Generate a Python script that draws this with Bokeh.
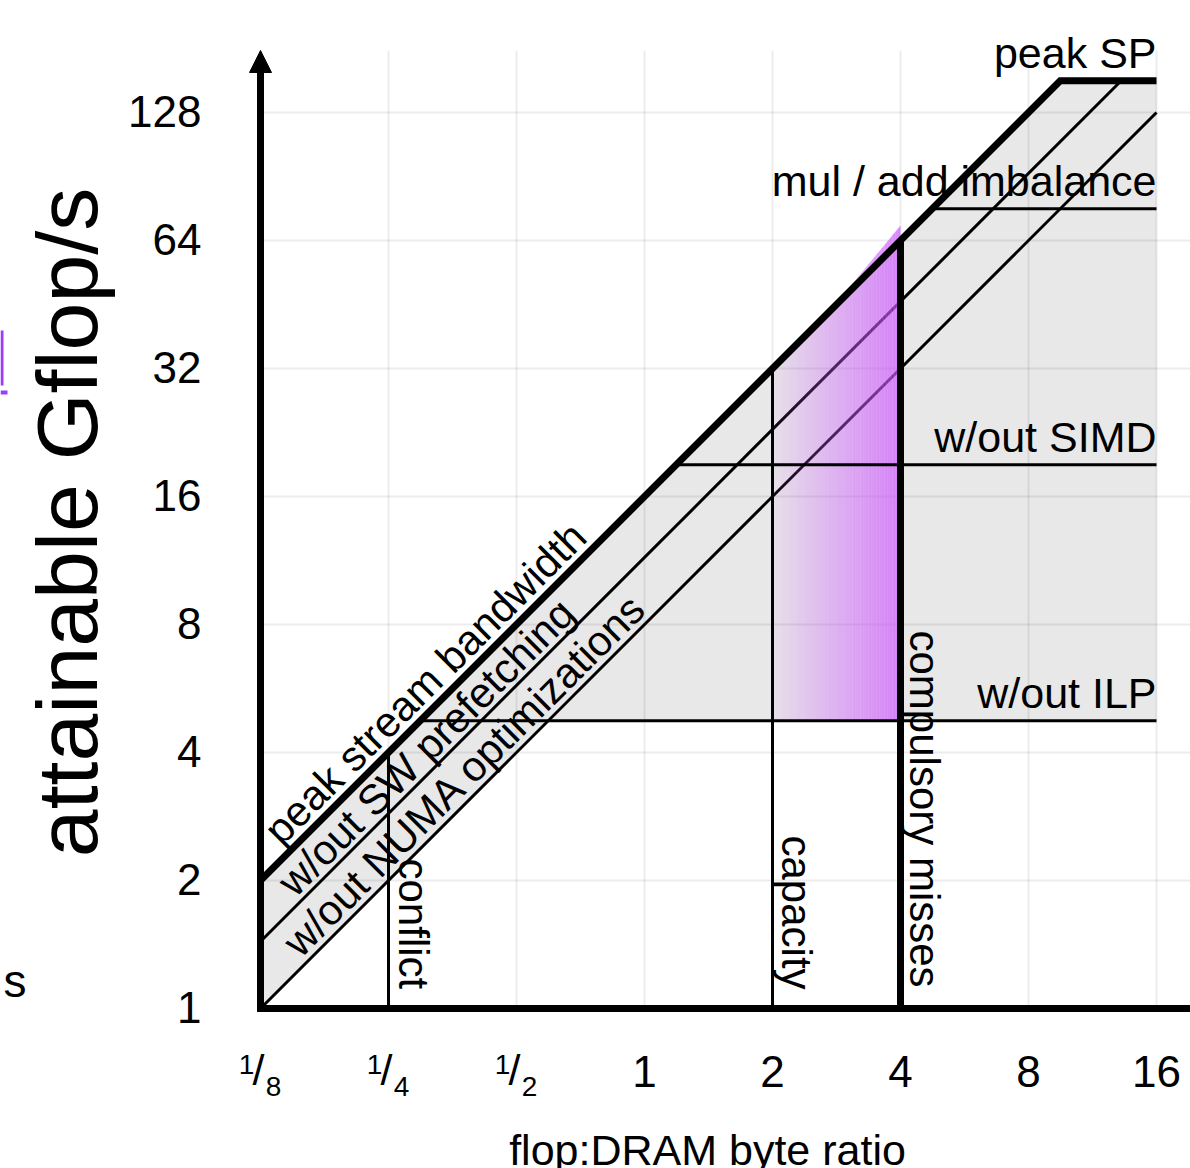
import math
import numpy as np
from bokeh.plotting import figure
from bokeh.models import Range1d, Arrow, NormalHead, Grid
from bokeh.core.properties import value
from bokeh.embed import file_html
from bokeh.resources import INLINE

# ---------------- data ----------------
x_ticks = [0.125, 0.25, 0.5, 1, 2, 4, 8, 16]
x_frac_num = ["1", "1", "1"]
x_frac_den = ["8", "4", "2"]
x_int_labels = ["1", "2", "4", "8", "16"]
y_ticks = [1, 2, 4, 8, 16, 32, 64, 128]
y_tick_labels = ["1", "2", "4", "8", "16", "32", "64", "128"]

peak_sp = 152.0
peak_label = "peak SP"
ceiling_names = ["mul / add imbalance", "w/out SIMD", "w/out ILP"]
ceiling_values = [76.0, 19.0, 4.75]

bw_names = ["peak stream bandwidth", "w/out SW prefetching", "w/out NUMA optimizations"]
bw_values = [16.0, 11.5, 8.0]

wall_names = ["conflict", "capacity", "compulsory misses"]
wall_values = [0.25, 2.0, 4.0]

x_title = "flop:DRAM byte ratio"
y_title = "attainable Gflop/s"

x_min, x_max = 0.125, 16.0
y_min = 1.0

# ---------------- layout ----------------
W, H = 1190, 1168
PX_OCT = 128.0
X0_PX, Y0_PX = 260.0, 1008.0
FONT = value("Liberation Sans")
BFIX = 0.385  # baseline correction (em) for the svg text renderer


def px_to_x(px):
    return x_min * 2 ** ((px - X0_PX) / PX_OCT)


def py_to_y(py):
    return y_min * 2 ** ((Y0_PX - py) / PX_OCT)


p = figure(width=W, height=H, x_axis_type="log", y_axis_type="log",
           x_range=Range1d(px_to_x(0), px_to_x(W)),
           y_range=Range1d(py_to_y(H), py_to_y(0)),
           x_axis_location=None, y_axis_location=None,
           toolbar_location=None, output_backend="svg",
           min_border=0, outline_line_color=None,
           background_fill_color="white", border_fill_color="white")
p.center = [c for c in p.center if not isinstance(c, Grid)]

bw0 = bw_values[0]
ilp = ceiling_values[-1]
numa = bw_values[-1]

# grey region
gx = [x_min, peak_sp / bw0, x_max, x_max, ilp / numa, x_min]
gy = [bw0 * x_min, peak_sp, peak_sp, ilp, ilp, numa * x_min]
p.patch(gx, gy, fill_color="#e8e8e8", line_color=None)

# grid lines
top_y = py_to_y(50)
p.segment(x0=x_ticks, y0=[y_min] * len(x_ticks), x1=x_ticks, y1=[top_y] * len(x_ticks),
          line_color="black", line_alpha=0.075, line_width=2)
p.segment(x0=[x_min] * len(y_ticks), y0=y_ticks, x1=[px_to_x(W)] * len(y_ticks), y1=y_ticks,
          line_color="black", line_alpha=0.075, line_width=2)

# lower bandwidth diagonals
for bw in bw_values[1:]:
    xe = min(x_max, peak_sp / bw)
    p.line([x_min, xe], [bw * x_min, bw * xe], line_color="black", line_width=3)

# purple gradient region between capacity and compulsory walls
N = 48
edges = 2 ** np.linspace(math.log2(wall_values[1]), math.log2(wall_values[2]), N + 1)


def top_of(x):
    f = math.log2(x / wall_values[1]) / math.log2(wall_values[2] / wall_values[1])
    ov = 15.0 * max(0.0, (f - 0.45) / 0.55)
    return bw0 * x * 2 ** (ov / PX_OCT)


pxs, pys, alphas = [], [], []
for i in range(N):
    xl, xr = edges[i], edges[i + 1]
    pxs.append([xl, xr, xr, xl])
    pys.append([ilp, ilp, top_of(xr), top_of(xl)])
    f = (i + 0.5) / N
    alphas.append(0.05 + 0.69 * f)
p.patches(xs=pxs, ys=pys, fill_color="#ce5aff", fill_alpha=alphas, line_color=None)

# ceilings
for c in ceiling_values:
    p.line([c / bw0, x_max], [c, c], line_color="black", line_width=3)

# walls
wall_widths = [3, 3, 7]
for w, lw in zip(wall_values, wall_widths):
    p.line([w, w], [y_min, bw0 * w], line_color="black", line_width=lw)

# roofline
p.line([x_min, peak_sp / bw0, x_max], [bw0 * x_min, peak_sp, peak_sp],
       line_color="black", line_width=7, line_join="miter")

# axes
p.line([x_min, px_to_x(W)], [y_min, y_min], line_color="black", line_width=7, line_cap="square")
p.add_layout(Arrow(end=NormalHead(size=22, fill_color="black", line_color="black", line_width=1),
                   x_start=x_min, y_start=y_min, x_end=x_min, y_end=top_y,
                   line_width=7, line_color="black"))

# ---------------- texts ----------------
def up(fs):
    return BFIX * fs


# y tick labels
p.text(x=[x_min] * len(y_ticks), y=y_ticks, text=y_tick_labels, x_offset=-59, y_offset=16 - up(44),
       text_align="right", text_baseline="alphabetic", text_font=FONT,
       text_font_size="44px", text_color="black")

# x tick labels (integers)
p.text(x=x_ticks[3:], y=[y_min] * 5, text=x_int_labels, y_offset=80 - up(44),
       text_align="center", text_baseline="alphabetic", text_font=FONT,
       text_font_size="44px", text_color="black")
# fractions
p.text(x=x_ticks[:3], y=[y_min] * 3, text=x_frac_num, x_offset=-14, y_offset=67 - up(28),
       text_align="center", text_baseline="alphabetic", text_font=FONT,
       text_font_size="28px", text_color="black")
p.text(x=x_ticks[:3], y=[y_min] * 3, text=["/"] * 3, x_offset=-2, y_offset=78 - up(43),
       text_align="center", text_baseline="alphabetic", text_font=FONT,
       text_font_size="43px", text_color="black")
p.text(x=x_ticks[:3], y=[y_min] * 3, text=x_frac_den, x_offset=13, y_offset=89 - up(28),
       text_align="center", text_baseline="alphabetic", text_font=FONT,
       text_font_size="28px", text_color="black")

# ceiling labels
p.text(x=[x_max] * 4, y=[peak_sp] + ceiling_values, text=[peak_label] + ceiling_names,
       y_offset=-11 - up(43), text_align="right", text_baseline="alphabetic", text_font=FONT,
       text_font_size="43px", text_color="black")

# wall labels (rotated, reading downwards)
wall_xoff = [9 + up(42), 8 + up(42), 8 + up(42)]
wall_start_px = [858, 835, 630]
p.text(x=wall_values, y=[y_min] * 3, text=wall_names, x_offset=wall_xoff,
       y_offset=[s - Y0_PX for s in wall_start_px], angle=-math.pi / 2,
       text_align="left", text_baseline="alphabetic", text_font=FONT,
       text_font_size="42px", text_color="black")

# diagonal labels
foot_px = [441, 440, 479]
gaps = [7, 4, 5]
dxs = [px_to_x(f) for f in foot_px]
dys = [bw * xx for bw, xx in zip(bw_values, dxs)]
offs = [-(g + up(42)) / math.sqrt(2) for g in gaps]
p.text(x=dxs, y=dys, text=bw_names, x_offset=offs, y_offset=offs, angle=math.pi / 4,
       text_align="center", text_baseline="alphabetic", text_font=FONT,
       text_font_size="42px", text_color="black")

# axis titles
p.text(x=[px_to_x(707)], y=[py_to_y(1166)], y_offset=-up(43), text=[x_title], text_align="center",
       text_baseline="alphabetic", text_font=FONT, text_font_size="43px", text_color="black")
p.text(x=[px_to_x(100)], y=[py_to_y(522)], x_offset=-up(86), text=[y_title], angle=math.pi / 2,
       text_align="center", text_baseline="alphabetic", text_font=FONT,
       text_font_size="86px", text_color="black")

# stray fragments at the left edge
p.text(x=[px_to_x(3)], y=[py_to_y(998)], y_offset=-up(46), text=["s"], text_align="left",
       text_baseline="alphabetic", text_font=FONT, text_font_size="46px", text_color="black")
p.quad(left=[px_to_x(0), px_to_x(0)], right=[px_to_x(3), px_to_x(7)],
       top=[py_to_y(330), py_to_y(390)], bottom=[py_to_y(385), py_to_y(394)],
       fill_color="#9a3dff", line_color=None)

open("out.html", "w").write(file_html(p, INLINE))
